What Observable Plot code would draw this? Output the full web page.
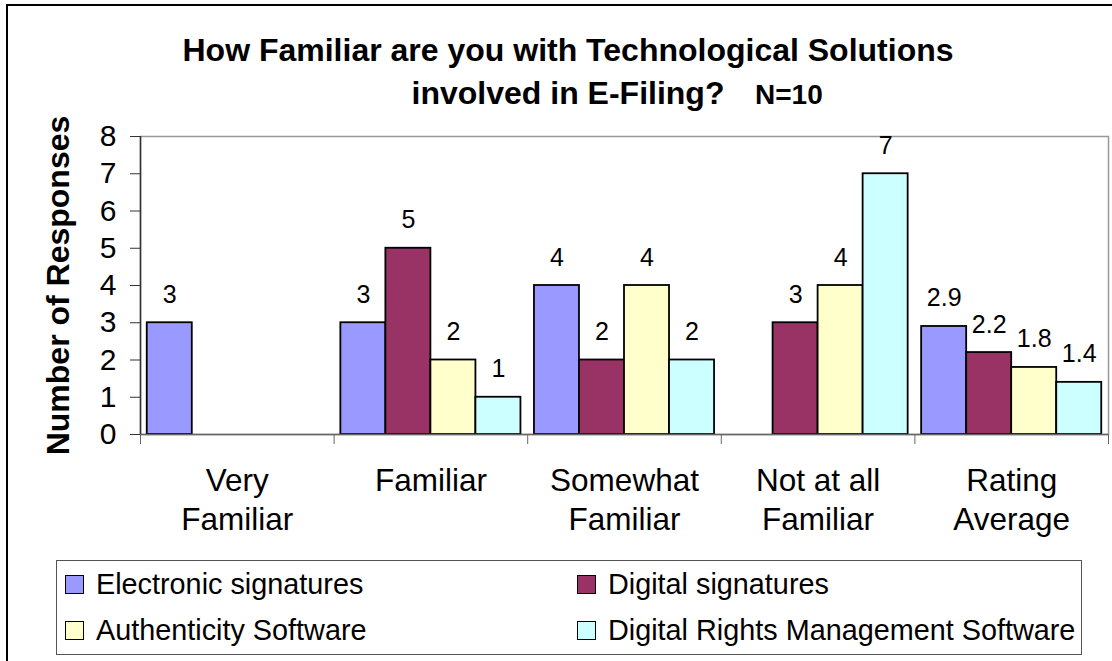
<!DOCTYPE html>
<html>
<head>
<meta charset="utf-8">
<script src="https://cdn.jsdelivr.net/npm/d3@7"></script>
<script src="https://cdn.jsdelivr.net/npm/@observablehq/plot@0.6"></script>
<style>
  html, body { margin: 0; padding: 0; background: #fff; }
  #chart { position: relative; width: 1112px; height: 661px; overflow: hidden; background: #fff;
           font-family: "Liberation Sans", Arial, sans-serif; color: #000; }
  #outer { position: absolute; left: 6px; top: 4px; width: 1200px; height: 800px;
           border-left: 2px solid #000; border-top: 2px solid #000; }
  .title { position: absolute; left: 0; width: 1136px; text-align: center; font-weight: bold;
           font-size: 32px; line-height: 32px; white-space: nowrap; }
  #n { position: absolute; left: 755px; font-weight: bold; font-size: 28px; line-height: 28px; }
  #plot { position: absolute; left: 0; top: 120px; }
  #legend { position: absolute; left: 56px; top: 560px; width: 1026px; height: 95px;
            border: 1px solid #555; box-sizing: border-box; }
  .item { position: absolute; display: flex; align-items: center; height: 30px;
          font-size: 28.8px; line-height: 30px; white-space: nowrap; }
  .sw { width: 17px; height: 17px; border: 1px solid #000; margin-right: 12px; flex: none; }
</style>
</head>
<body>
<div id="chart">
  <div id="outer"></div>
  <div class="title" id="t1"></div>
  <div class="title" id="t2"></div>
  <div id="n"></div>
  <div id="plot"></div>
  <div id="legend"></div>
</div>
<script>
// ---- data ----
const titleLines = ["How Familiar are you with Technological Solutions", "involved in E-Filing?"];
const nLabel = "N=10";
const yLabel = "Number of Responses";
const categories = ["Very\nFamiliar", "Familiar", "Somewhat\nFamiliar", "Not at all\nFamiliar", "Rating\nAverage"];
const seriesNames = ["Electronic signatures", "Digital signatures", "Authenticity Software", "Digital Rights Management Software"];
const electronicSignatures = [3, 3, 4, null, 2.9];
const digitalSignatures = [null, 5, 2, 3, 2.2];
const authenticitySoftware = [null, 2, 4, 4, 1.8];
const drmSoftware = [null, 1, 2, 7, 1.4];
const seriesColors = ["#9999FF", "#993366", "#FFFFCC", "#CCFFFF"];
const yTicks = [0, 1, 2, 3, 4, 5, 6, 7, 8];

// ---- build table ----
const seriesValues = [electronicSignatures, digitalSignatures, authenticitySoftware, drmSoftware];
const inner = d3.scaleBand().domain(seriesNames).range([0, 1]).paddingInner(0).paddingOuter(0.15);
const bw = inner.bandwidth();
const rows = [];
categories.forEach((c, ci) => {
  seriesNames.forEach((s, si) => {
    const v = seriesValues[si][ci];
    if (v != null) rows.push({ci, s, v, x1: ci + inner(s), x2: ci + inner(s) + bw});
  });
});

// ---- titles ----
const t1 = document.getElementById("t1"); t1.textContent = titleLines[0]; t1.style.top = "34px";
const t2 = document.getElementById("t2"); t2.textContent = titleLines[1]; t2.style.top = "77px";
const nEl = document.getElementById("n"); nEl.textContent = nLabel; nEl.style.top = "81px";

// ---- plot ----
const chart = Plot.plot({
  width: 1112,
  height: 430,
  marginLeft: 140,
  marginRight: 4,
  marginTop: 16,
  marginBottom: 116,
  style: {fontFamily: '"Liberation Sans", Arial, sans-serif', fontSize: "30px", color: "#000", background: "transparent", overflow: "visible"},
  x: {domain: [0, categories.length], axis: null},
  y: {domain: [0, 8], axis: null},
  color: {domain: seriesNames, range: seriesColors},
  marks: [
    Plot.frame({stroke: "#999", strokeWidth: 1.5}),
    Plot.rectY(rows, {x1: "x1", x2: "x2", y: "v", fill: "s", stroke: "#000", strokeWidth: 1.8}),
    Plot.ruleY([0], {stroke: "#666", strokeWidth: 1.5}),
    Plot.ruleX([0], {stroke: "#333", strokeWidth: 1.5}),
    Plot.axisY({ticks: yTicks, tickSize: 10, tickPadding: 14, fontSize: 30, label: null, stroke: "#333", tickFormat: d => String(d)}),
    Plot.axisX({ticks: d3.range(categories.length + 1), tickSize: 10, tickFormat: () => "", label: null, stroke: "#666"}),
    Plot.text(categories, {x: (d, i) => i + 0.5, frameAnchor: "bottom", lineAnchor: "top", dy: 29, fontSize: 31.5, lineHeight: 1.24}),
    Plot.text(rows, {x: d => (d.x1 + d.x2) / 2, y: "v", text: d => String(d.v), dy: -28, fontSize: 25}),
    Plot.text([yLabel], {frameAnchor: "left", textAnchor: "middle", rotate: -90, dx: -82, fontSize: 32, fontWeight: "bold"})
  ]
});
document.getElementById("plot").appendChild(chart);

// ---- legend ----
const legend = document.getElementById("legend");
const legendPos = [[8, 8], [520, 8], [8, 54], [520, 54]];
seriesNames.forEach((s, i) => {
  const it = document.createElement("div");
  it.className = "item";
  it.style.left = legendPos[i][0] + "px";
  it.style.top = legendPos[i][1] + "px";
  const sw = document.createElement("span");
  sw.className = "sw";
  sw.style.background = seriesColors[i];
  const tx = document.createElement("span");
  tx.textContent = s;
  it.appendChild(sw); it.appendChild(tx);
  legend.appendChild(it);
});
</script>
</body>
</html>
